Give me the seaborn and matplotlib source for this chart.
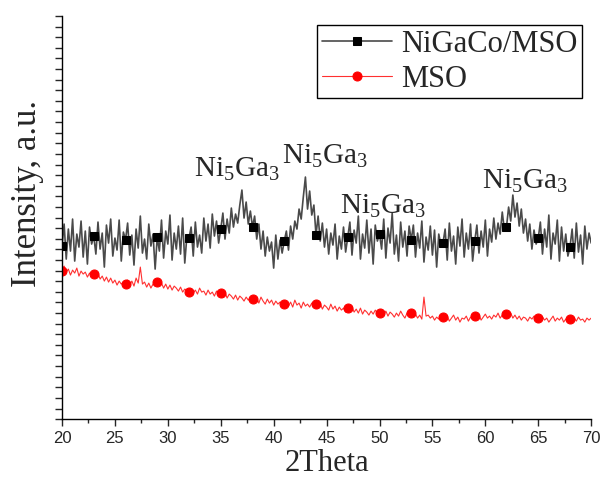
import numpy as np
import pandas as pd
import matplotlib
matplotlib.use("Agg")
import matplotlib.pyplot as plt
from matplotlib.ticker import MultipleLocator
import seaborn as sns

# 2Theta 网格: 20 到 70, 步长 0.2 (251 个点)
two_theta = np.round(np.arange(20, 70.0001, 0.2), 1)

# NiGaCo/MSO 强度 (从图中估读, a.u.)
nigaco = [
    173, 195, 160, 190, 168, 200, 158, 185, 172, 198, 162, 188, 155, 192, 175,
    183, 165, 197, 170, 186, 152, 194, 176, 200, 163, 181, 169, 199, 158, 187,
    179, 196, 164, 184, 154, 190, 171, 203, 166, 180, 160, 195, 173, 185, 150,
    182, 168, 199, 161, 188, 175, 204, 159, 186, 170, 193, 165, 201, 156, 183,
    181, 192, 163, 197, 172, 184, 166, 201, 178, 195, 171, 205, 183, 198, 176,
    190, 206, 180, 200, 186, 211, 192, 205, 196, 214, 229, 201, 217, 195, 208,
    192, 203, 180, 195, 170, 188, 163, 182, 168, 177, 151, 184, 160, 179, 166,
    178, 188, 169, 193, 180, 198, 190, 210, 200, 222, 242, 210, 228, 204, 214,
    184, 203, 178, 196, 172, 190, 165, 186, 174, 195, 160, 183, 170, 192, 167,
    182, 197, 164, 189, 176, 203, 160, 185, 171, 199, 166, 190, 155, 194, 178,
    185, 170, 200, 161, 191, 176, 206, 165, 184, 158, 197, 172, 188, 163, 193,
    179, 194, 162, 186, 171, 198, 157, 182, 169, 193, 164, 189, 152, 185, 174,
    176, 190, 159, 196, 168, 183, 155, 192, 173, 200, 162, 186, 170, 195, 158,
    178, 194, 166, 188, 172, 199, 163, 190, 177, 201, 180, 196, 185, 207, 189,
    192, 212, 198, 224, 202, 216, 193, 210, 186, 200, 178, 195, 170, 189, 175,
    181, 197, 165, 190, 172, 204, 160, 186, 175, 199, 158, 192, 168, 185, 163,
    172, 190, 161, 196, 167, 184, 155, 193, 170, 186, 176,
]

# MSO 强度
mso = [
    148, 153, 147, 150, 144, 149, 146, 151, 143, 148, 145, 147, 142, 146, 144,
    145, 141, 146, 140, 143, 138, 142, 137, 141, 136, 139, 134, 138, 135, 137,
    135, 139, 134, 138, 133, 141, 136, 152, 135, 137, 132, 136, 131, 135, 133,
    137, 133, 136, 131, 135, 130, 134, 129, 133, 131, 128, 132, 127, 130, 129,
    127, 130, 126, 129, 125, 131, 127, 128, 124, 129, 125, 127, 123, 128, 125,
    126, 122, 127, 121, 125, 123, 120, 124, 119, 123, 121, 118, 122, 119, 121,
    120, 117, 121, 116, 122, 118, 115, 120, 116, 119, 114, 118, 115, 117, 113,
    115, 118, 113, 117, 112, 119, 114, 116, 111, 117, 113, 115, 112, 116, 113,
    115, 111, 116, 110, 114, 112, 109, 115, 110, 113, 108, 112, 109, 111, 107,
    111, 108, 112, 107, 110, 106, 111, 105, 109, 107, 104, 108, 105, 109, 106,
    106, 109, 104, 108, 103, 107, 105, 102, 106, 103, 108, 104, 101, 106, 103,
    106, 102, 105, 101, 104, 100, 122, 103, 104, 101, 103, 99, 102, 100, 104,
    102, 99, 103, 98, 101, 104, 99, 102, 97, 101, 100, 103, 98, 102, 100,
    103, 100, 104, 99, 102, 105, 101, 103, 100, 104, 102, 106, 101, 104, 103,
    105, 102, 106, 101, 104, 100, 103, 99, 102, 101, 98, 102, 100, 103, 99,
    101, 98, 102, 99, 101, 97, 100, 103, 98, 101, 99, 102, 97, 100, 99,
    100, 97, 101, 98, 102, 99, 100, 97, 101, 99, 101,
]

# 峰的标注 (左端 2Theta, 基线高度)
peak_labels = ["Ni$_\\mathregular{5}$Ga$_\\mathregular{3}$"] * 4
peak_pos = [(32.5, 243), (40.8, 256), (46.3, 206), (59.7, 231)]

df = pd.DataFrame({"2Theta": two_theta, "NiGaCo/MSO": nigaco, "MSO": mso})

sns.set_style("ticks")
plt.rcParams["font.family"] = ["Liberation Serif", "DejaVu Serif"]
plt.rcParams["mathtext.fontset"] = "custom"
plt.rcParams["mathtext.rm"] = "Liberation Serif"

fig = plt.figure(figsize=(6.02, 4.84), dpi=100)
ax = fig.add_axes([0.103, 0.134, 0.879, 0.833])

sns.lineplot(data=df, x="2Theta", y="NiGaCo/MSO", ax=ax, color="#4a4a4a", lw=1.2,
             marker="s", markersize=5.5, markerfacecolor="black", markeredgecolor="black",
             markevery=15, label="NiGaCo/MSO")
sns.lineplot(data=df, x="2Theta", y="MSO", ax=ax, color="#ff3030", lw=0.8,
             marker="o", markersize=6.5, markerfacecolor="red", markeredgecolor="red",
             markevery=15, label="MSO")

for txt, (x, y) in zip(peak_labels, peak_pos):
    ax.text(x, y, txt, fontsize=21, ha="left", va="baseline")

ax.set_xlim(20, 70)
ax.set_ylim(0, 403)
ax.xaxis.set_major_locator(MultipleLocator(5))
ax.xaxis.set_minor_locator(MultipleLocator(2.5))
ax.yaxis.set_major_locator(MultipleLocator(403 / 19))
ax.yaxis.set_minor_locator(MultipleLocator(403 / 38))
ax.set_yticklabels([])
ax.tick_params(axis="x", which="major", length=5, width=1, labelsize=12, direction="out")
ax.tick_params(axis="x", which="minor", length=3, width=1, direction="out")
ax.tick_params(axis="y", which="both", length=5, width=1, direction="out")
for lab in ax.get_xticklabels():
    lab.set_family(["Liberation Sans", "DejaVu Sans"])

ax.set_xlabel("2Theta", fontsize=22, va="baseline")
ax.xaxis.set_label_coords(0.5, -0.128)
ax.set_ylabel("Intensity, a.u.", fontsize=25)
ax.yaxis.set_label_coords(-0.034, 0.56)
sns.despine(ax=ax)
for s in ["left", "bottom"]:
    ax.spines[s].set_color("black")
    ax.spines[s].set_linewidth(1)

leg = ax.legend(loc="upper right", fontsize=22, frameon=True, fancybox=False,
                framealpha=1, edgecolor="black", handlelength=2.3, handletextpad=0.3,
                labelspacing=0.2, borderpad=0.15, borderaxespad=0.3)
leg.get_frame().set_linewidth(1)

fig.savefig("out.png", dpi=100)
